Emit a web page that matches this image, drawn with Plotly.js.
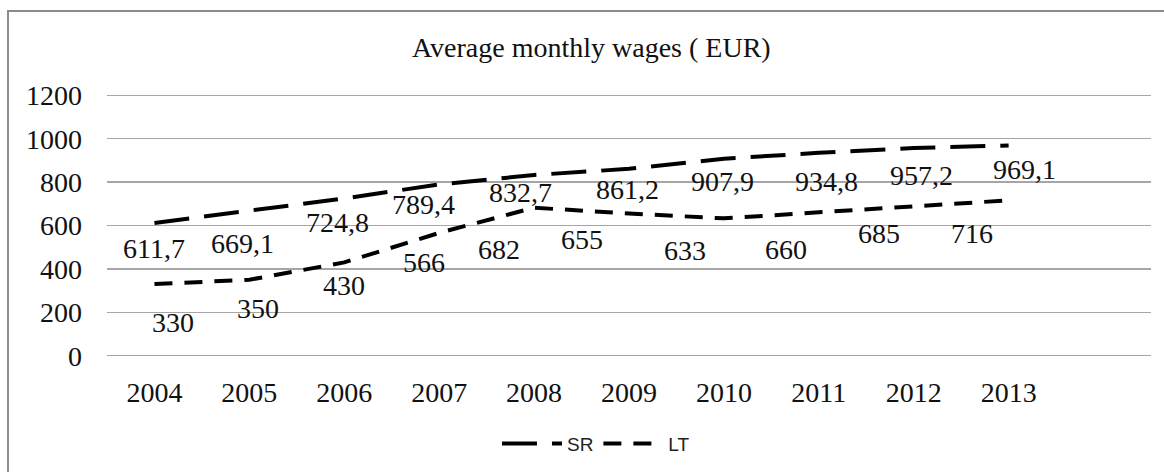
<!DOCTYPE html>
<html>
<head>
<meta charset="utf-8">
<script src="https://cdn.plot.ly/plotly-3.0.1.min.js"></script>
<style>
  html, body { margin: 0; padding: 0; background: #ffffff; }
  #wrap { position: relative; width: 1164px; height: 472px; overflow: hidden; }
  #chart { position: absolute; left: 0; top: 0; width: 1164px; height: 472px; }
  #frame { position: absolute; left: 7px; top: 10px; width: 1200px; height: 520px;
           border-left: 2px solid #8c8c8c; border-top: 2px solid #8c8c8c; pointer-events: none; }
</style>
</head>
<body>
<div id="wrap">
  <div id="chart"></div>
  <div id="frame"></div>
</div>
<script>
// ---- data ----
const years = ["2004", "2005", "2006", "2007", "2008", "2009", "2010", "2011", "2012", "2013"];
const srValues = [611.7, 669.1, 724.8, 789.4, 832.7, 861.2, 907.9, 934.8, 957.2, 969.1];
const ltValues = [330, 350, 430, 566, 682, 655, 633, 660, 685, 716];
const seriesNames = ["SR", "LT"];
const yTicks = [0, 200, 400, 600, 800, 1000, 1200];

// ---- label placement (pixel offsets from each point; layout only) ----
const srLabelDx = [0, -7, -7, -16, -14, -2, -1, 8, 8, 16];
const srLabelDy = [-26, -33, -24, -20, -17, -21, -23, -29, -28, -24];
const ltLabelDx = [19, 9, 0, -15, -35, -47, -39, -33, -35, -37];
const ltLabelDy = [-38, -29, -23, -30, -42, -26, -32, -37, -26, -33];

const serif = "'Liberation Serif', 'Times New Roman', serif";
const fmt = v => String(v).replace('.', ',');

const traces = [
  { x: years, y: srValues, name: seriesNames[0], type: 'scatter', mode: 'lines',
    line: { color: '#000000', width: 4, dash: '35px,15px' }, hoverinfo: 'skip' },
  { x: years, y: ltValues, name: seriesNames[1], type: 'scatter', mode: 'lines',
    line: { color: '#000000', width: 4, dash: '18px,12px' }, hoverinfo: 'skip' }
];

const annotations = [];
function addLabels(vals, dx, dy) {
  vals.forEach((v, i) => {
    annotations.push({
      x: i, y: v, xref: 'x', yref: 'y', text: fmt(v), showarrow: false,
      xanchor: 'center', yanchor: 'middle', xshift: dx[i], yshift: dy[i],
      font: { family: serif, size: 28, color: '#111111' }
    });
  });
}
addLabels(srValues, srLabelDx, srLabelDy);
addLabels(ltValues, ltLabelDx, ltLabelDy);

const layout = {
  width: 1164, height: 472,
  margin: { l: 107, r: 13, t: 94.4, b: 115.4, pad: 0 },
  paper_bgcolor: 'rgba(0,0,0,0)', plot_bgcolor: 'rgba(0,0,0,0)',
  title: { text: 'Average monthly wages ( EUR)', font: { family: serif, size: 28, color: '#111111' },
    xref: 'container', yref: 'container', x: 0.508, y: 0.90, xanchor: 'center', yanchor: 'middle' },
  xaxis: { type: 'category', categoryorder: 'array', categoryarray: years, range: [-0.5, 10.5],
    showgrid: false, zeroline: false, showline: false, ticks: '', ticklabelstandoff: 16,
    tickfont: { family: serif, size: 28, color: '#111111' } },
  yaxis: { range: [-6, 1206], tickvals: yTicks, showgrid: true, gridcolor: '#a6a6a6', gridwidth: 1.3,
    zeroline: false, showline: false, ticks: '', ticklabelstandoff: 24,
    tickfont: { family: serif, size: 28, color: '#111111' } },
  showlegend: true,
  legend: { orientation: 'h', xref: 'container', yref: 'container', x: 0.512, y: 0.06,
    xanchor: 'center', yanchor: 'middle',
    font: { family: "'Liberation Sans', Arial, sans-serif", size: 19, color: '#222222' },
    itemwidth: 60, bgcolor: 'rgba(0,0,0,0)' },
  annotations: annotations
};

Plotly.newPlot('chart', traces, layout, { staticPlot: true, displayModeBar: false });
</script>
</body>
</html>
